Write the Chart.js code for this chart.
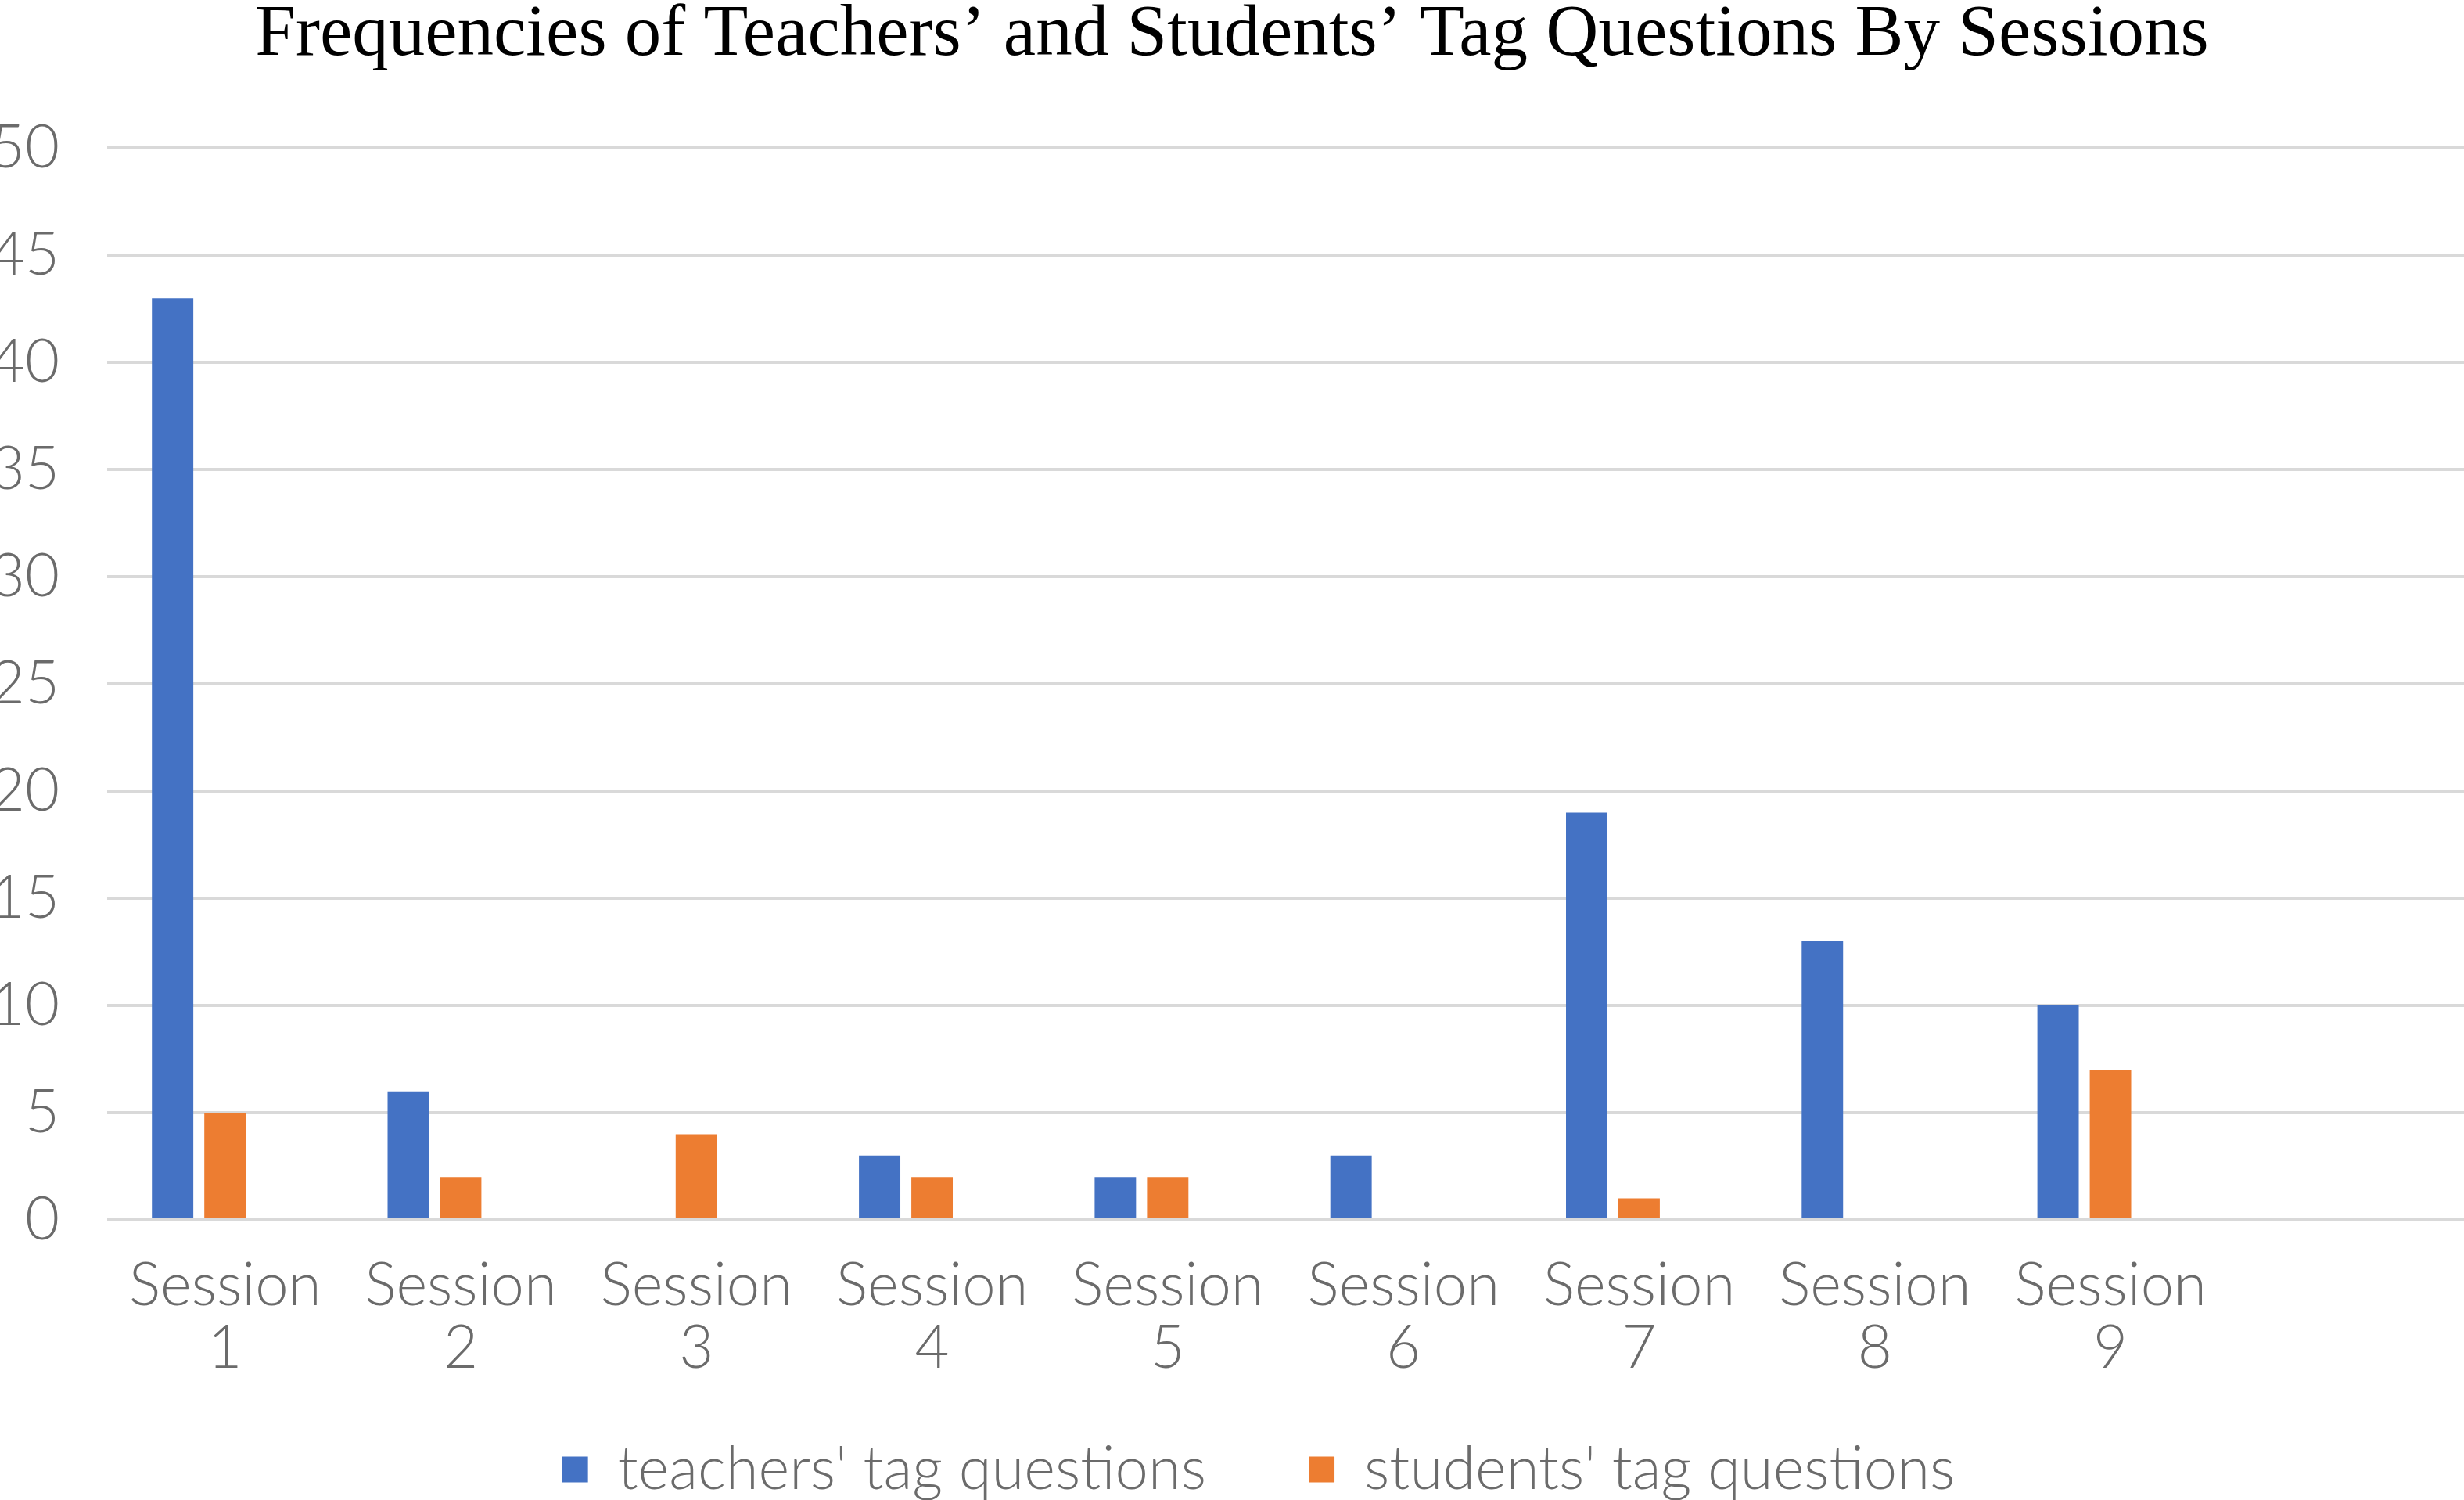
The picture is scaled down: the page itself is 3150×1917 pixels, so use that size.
<!DOCTYPE html>
<html>
<head>
<meta charset="utf-8">
<script src="https://cdn.jsdelivr.net/npm/chart.js@4/dist/chart.umd.min.js"></script>
<style>
  html, body { margin: 0; padding: 0; background: #fff; overflow: hidden; }
  #wrap { position: absolute; left: 0; top: 0; width: 3150px; height: 1917px; }
</style>
</head>
<body>
<div id="wrap"><canvas id="c"></canvas></div>
<script>
const titleText = "Frequencies of Teachers\u2019 and Students\u2019 Tag Questions By Sessions";
const categories = ["Session 1", "Session 2", "Session 3", "Session 4", "Session 5", "Session 6", "Session 7", "Session 8", "Session 9", ""];
const teachersTag = [43, 6, 0, 3, 2, 3, 19, 13, 10, null];
const studentsTag = [5, 2, 4, 2, 2, 0, 1, 0, 7, null];
const emptySeries = [null, null, null, null, null, null, null, null, null, null];
const seriesNames = ["teachers' tag questions", "students' tag questions", ""];
const yTicks = [0, 5, 10, 15, 20, 25, 30, 35, 40, 45, 50];

const sansFont = "Lato, 'DejaVu Sans Condensed', sans-serif";
const grey = '#6b6b6b';

// Legend placement tweak: keep wide horizontal spacing between the two
// legend entries without letting that spacing consume vertical room.
const LEGEND_FIT_REDUCE = 63;
const LEGEND_DRAW_UP = 54;
const LEGEND_DRAW_RIGHT = 34;
const legendTweak = {
  id: 'legendTweak',
  beforeLayout(chart) {
    const lg = chart.legend;
    if (!lg || lg._tweaked) return;
    lg._tweaked = true;
    const fit = lg.fit;
    lg.fit = function () { fit.call(this); this.height -= LEGEND_FIT_REDUCE; };
    const draw = lg.draw;
    lg.draw = function () {
      this.top -= LEGEND_DRAW_UP; this.left += LEGEND_DRAW_RIGHT; this.right += LEGEND_DRAW_RIGHT;
      draw.call(this);
      this.top += LEGEND_DRAW_UP; this.left -= LEGEND_DRAW_RIGHT; this.right -= LEGEND_DRAW_RIGHT;
    };
  }
};

new Chart(document.getElementById('c'), {
  type: 'bar',
  data: {
    labels: categories.map(s => s ? s.split(' ') : ''),
    datasets: [
      { label: seriesNames[0], data: teachersTag, backgroundColor: '#4472C4' },
      { label: seriesNames[1], data: studentsTag, backgroundColor: '#ED7D31' },
      { label: seriesNames[2], data: emptySeries, backgroundColor: '#A5A5A5' }
    ]
  },
  plugins: [legendTweak],
  options: {
    responsive: true,
    maintainAspectRatio: false,
    animation: false,
    datasets: { bar: { categoryPercentage: 0.667, barPercentage: 0.79 } },
    layout: { padding: { top: 0, right: 0, bottom: 0, left: 0 } },
    plugins: {
      title: {
        display: true,
        text: titleText,
        color: '#000',
        font: { family: "'Liberation Serif', 'Times New Roman', serif", size: 93, weight: 'normal', lineHeight: 0.8 },
        padding: { top: 8, bottom: 107 }
      },
      legend: {
        position: 'bottom',
        labels: {
          filter: item => item.text !== '',
          color: grey,
          font: { family: sansFont, size: 76, weight: 300 },
          boxWidth: 33,
          boxHeight: 33,
          padding: 131
        }
      },
      tooltip: { enabled: false }
    },
    scales: {
      x: {
        afterFit: axis => { axis.height = 204; },
        grid: { display: false, drawTicks: false },
        border: { display: false },
        ticks: {
          color: grey,
          font: { family: sansFont, size: 76, weight: 300, lineHeight: 80 / 76 },
          padding: 44,
          maxRotation: 0,
          autoSkip: false
        }
      },
      y: {
        min: 0,
        max: 50,
        afterBuildTicks: axis => { axis.ticks = yTicks.map(v => ({ value: v })); },
        afterFit: axis => { axis.width = 137; },
        grid: { color: '#d9d9d9', lineWidth: 4, drawTicks: false },
        border: { display: false },
        ticks: {
          color: grey,
          font: { family: sansFont, size: 76, weight: 300 },
          padding: 61
        }
      }
    }
  }
});
</script>
</body>
</html>
